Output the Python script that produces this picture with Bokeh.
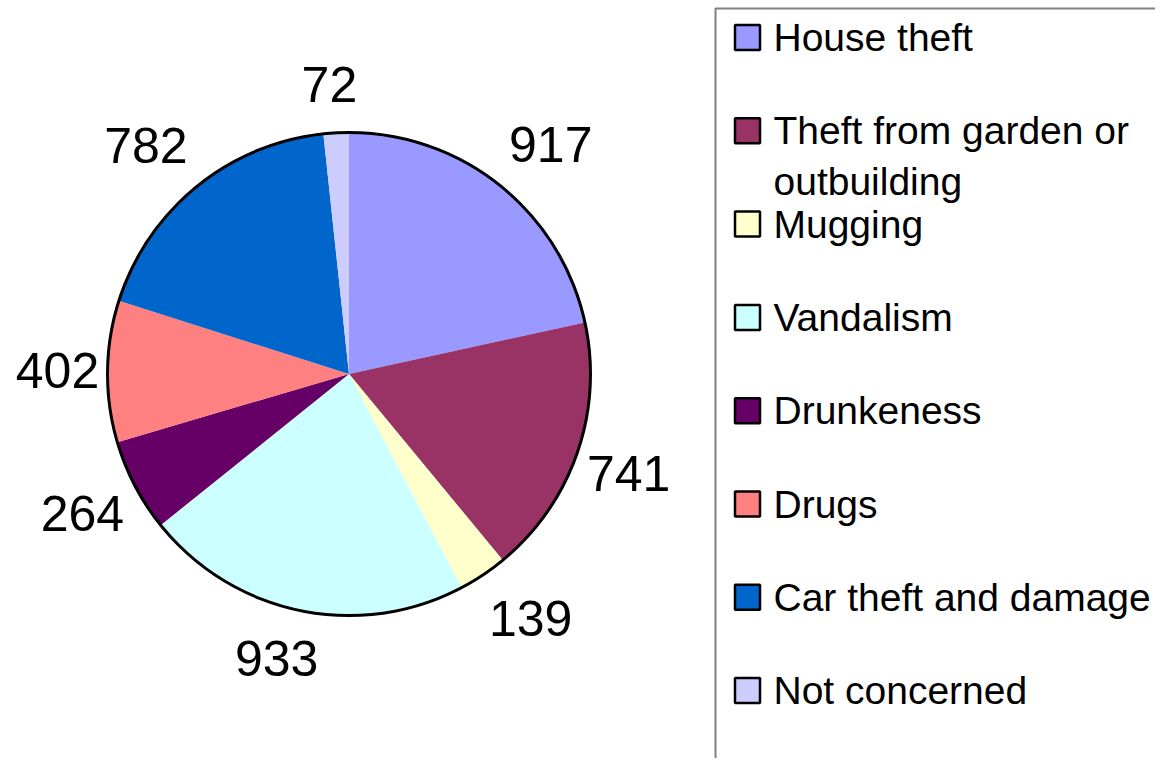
import math
from bokeh.plotting import figure
from bokeh.models import Range1d, ColumnDataSource
from bokeh.core.properties import value
from bokeh.embed import file_html
from bokeh.resources import INLINE

categories = ["House theft", "Theft from garden or outbuilding", "Mugging", "Vandalism",
              "Drunkeness", "Drugs", "Car theft and damage", "Not concerned"]
legend_lines = [["House theft"], ["Theft from garden or", "outbuilding"], ["Mugging"], ["Vandalism"],
                ["Drunkeness"], ["Drugs"], ["Car theft and damage"], ["Not concerned"]]
counts = [917, 741, 139, 933, 264, 402, 782, 72]
colors = ["#9999FF", "#993366", "#FFFFCC", "#CCFFFF", "#660066", "#FF8080", "#0066CC", "#CCCCFF"]

W, H = 1155, 758

def py(y):
    # convert screen pixel y (from top) to data y
    return H - y

p = figure(width=W, height=H, output_backend="svg", toolbar_location=None,
           x_range=Range1d(0, W), y_range=Range1d(0, H), min_border=0)
p.axis.visible = False
p.grid.visible = False
p.outline_line_color = None
p.background_fill_color = "white"

cx, cy, R = 348.5, py(373.5), 241.5
total = sum(counts)
starts, ends, mids = [], [], []
cum = 0
for c in counts:
    a0 = math.pi / 2 - 2 * math.pi * cum / total
    a1 = math.pi / 2 - 2 * math.pi * (cum + c) / total
    starts.append(a0)
    ends.append(a1)
    mids.append((a0 + a1) / 2)
    cum += c

src = ColumnDataSource(dict(start=starts, end=ends, color=colors, cat=categories))
p.wedge(x=cx, y=cy, radius=R, start_angle="start", end_angle="end", direction="clock",
        fill_color="color", line_color=None, source=src)
p.circle(x=[cx], y=[cy], radius=R, fill_color=None, line_color="black", line_width=3)

# value labels placed around the pie, pushed out by the text box extent
lx, ly = [], []
for m in mids:
    ux, uy = math.cos(m), math.sin(m)
    lx.append(cx + ux * (291.5 + 81 * (1 - abs(ux))))
    ly.append(cy + uy * (290 + 20 * (1 - abs(uy))))
p.text(x=lx, y=ly, text=[str(c) for c in counts], text_align="center", text_baseline="middle",
       text_font=value("Liberation Sans"), text_font_size="50px", text_color="black")

# legend box
p.quad(left=[715], right=[1300], top=[py(8)], bottom=[-30], fill_color="white",
       line_color="#808080", line_width=2)

first_y = 37
step = 93.3
for i, (lines, col) in enumerate(zip(legend_lines, colors)):
    yy = first_y + i * step
    p.scatter(x=[747], y=[py(yy)], marker="square", size=25, fill_color=col,
              line_color="black", line_width=2.5)
    for j, t in enumerate(lines):
        p.text(x=[773], y=[py(yy + j * 51)], text=[t], text_align="left", text_baseline="middle",
               text_font=value("Liberation Sans"), text_font_size="39px", text_color="black")

open("out.html", "w").write(file_html(p, INLINE))
